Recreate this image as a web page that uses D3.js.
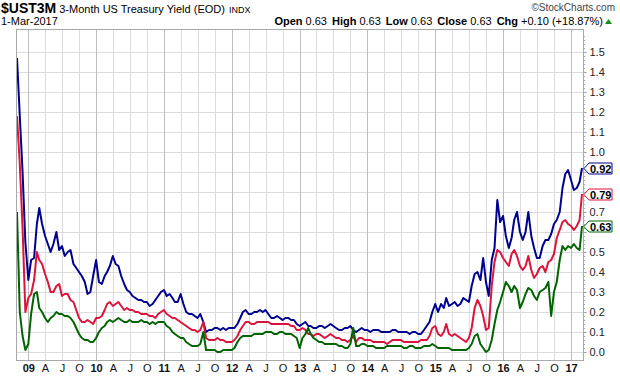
<!DOCTYPE html>
<html>
<head>
<meta charset="utf-8">
<script src="https://cdn.jsdelivr.net/npm/d3@7"></script>
<style>
  body { margin: 0; background: #fff; }
  svg { display: block; font-family: "Liberation Sans", Arial, sans-serif; }
</style>
</head>
<body>
<div id="chart"></div>
<script>
// semi-monthly closes (1st and 16th), Nov 2008 .. Mar 2017
const startDate = new Date(2008, 10, 1);

const yield1Y = [
  1.47, 1.18, 0.90, 0.55,
  0.36, 0.46, 0.47, 0.64, 0.72, 0.64, 0.58, 0.54, 0.50, 0.54, 0.60, 0.51, 0.53, 0.48, 0.50, 0.51, 0.44, 0.42, 0.40, 0.38, 0.35, 0.29, 0.30, 0.38,
  0.46, 0.35, 0.34, 0.38, 0.40, 0.43, 0.48, 0.44, 0.43, 0.38, 0.34, 0.31, 0.30, 0.28, 0.27, 0.26, 0.26, 0.25, 0.25, 0.23, 0.24, 0.26, 0.28, 0.30,
  0.31, 0.28, 0.29, 0.27, 0.25, 0.25, 0.29, 0.24, 0.20, 0.19, 0.19, 0.18, 0.17, 0.19, 0.15, 0.10, 0.11, 0.11, 0.12, 0.12, 0.11, 0.12, 0.11, 0.12,
  0.12, 0.12, 0.14, 0.17, 0.20, 0.21, 0.19, 0.19, 0.20, 0.20, 0.21, 0.20, 0.21, 0.19, 0.17, 0.17, 0.18, 0.17, 0.16, 0.17, 0.17, 0.16, 0.16, 0.14,
  0.13, 0.14, 0.15, 0.13, 0.13, 0.12, 0.12, 0.13, 0.13, 0.12, 0.13, 0.14, 0.13, 0.12, 0.11, 0.11, 0.12, 0.12, 0.13, 0.11, 0.10, 0.11, 0.12, 0.11,
  0.11, 0.10, 0.11, 0.11, 0.11, 0.10, 0.10, 0.10, 0.10, 0.11, 0.11, 0.10, 0.10, 0.10, 0.10, 0.09, 0.10, 0.10, 0.09, 0.09, 0.11, 0.13, 0.15, 0.20,
  0.24, 0.20, 0.24, 0.22, 0.27, 0.23, 0.24, 0.25, 0.23, 0.24, 0.27, 0.26, 0.25, 0.33, 0.39, 0.40, 0.36, 0.47, 0.35, 0.28, 0.46, 0.52, 0.76, 0.65,
  0.68, 0.58, 0.52, 0.57, 0.66, 0.70, 0.60, 0.56, 0.60, 0.70, 0.58, 0.52, 0.47, 0.47, 0.53, 0.56, 0.56, 0.59, 0.64, 0.66, 0.70, 0.82, 0.89, 0.91,
  0.86, 0.81, 0.82, 0.85, 0.92
];

const yield6M = [
  1.18, 0.94, 0.62, 0.20,
  0.27, 0.29, 0.36, 0.50, 0.46, 0.44, 0.39, 0.35, 0.30, 0.30, 0.33, 0.34, 0.28, 0.29, 0.29, 0.26, 0.25, 0.21, 0.17, 0.15, 0.15, 0.16, 0.15, 0.14,
  0.17, 0.17, 0.18, 0.21, 0.24, 0.25, 0.23, 0.24, 0.25, 0.23, 0.21, 0.22, 0.21, 0.21, 0.20, 0.20, 0.19, 0.19, 0.19, 0.18, 0.18, 0.17, 0.19, 0.20,
  0.21, 0.19, 0.18, 0.17, 0.17, 0.16, 0.15, 0.14, 0.13, 0.12, 0.11, 0.11, 0.10, 0.11, 0.15, 0.07, 0.06, 0.06, 0.06, 0.07, 0.06, 0.06, 0.05, 0.05,
  0.05, 0.06, 0.08, 0.11, 0.13, 0.15, 0.15, 0.14, 0.14, 0.15, 0.15, 0.15, 0.15, 0.15, 0.14, 0.14, 0.14, 0.14, 0.14, 0.14, 0.14, 0.13, 0.13, 0.11,
  0.11, 0.12, 0.11, 0.09, 0.09, 0.08, 0.09, 0.09, 0.08, 0.07, 0.08, 0.09, 0.08, 0.07, 0.07, 0.06, 0.06, 0.05, 0.06, 0.08, 0.05, 0.07, 0.07, 0.06,
  0.06, 0.06, 0.05, 0.05, 0.05, 0.05, 0.05, 0.04, 0.05, 0.06, 0.06, 0.06, 0.06, 0.05, 0.05, 0.05, 0.05, 0.05, 0.05, 0.06, 0.06, 0.06, 0.08, 0.12,
  0.13, 0.09, 0.08, 0.10, 0.14, 0.09, 0.08, 0.09, 0.08, 0.07, 0.06, 0.05, 0.07, 0.12, 0.22, 0.26, 0.23, 0.18, 0.11, 0.12, 0.33, 0.45, 0.51, 0.50,
  0.47, 0.45, 0.43, 0.49, 0.51, 0.48, 0.43, 0.41, 0.43, 0.48, 0.41, 0.37, 0.39, 0.42, 0.43, 0.40, 0.45, 0.46, 0.49, 0.57, 0.61, 0.65, 0.66, 0.64,
  0.63, 0.61, 0.63, 0.66, 0.79
];

const yield3M = [
  0.70, 0.20, 0.08, 0.01,
  0.04, 0.19, 0.29, 0.30, 0.22, 0.20, 0.17, 0.15, 0.17, 0.18, 0.20, 0.19, 0.19, 0.18, 0.18, 0.17, 0.15, 0.12, 0.09, 0.07, 0.06, 0.06, 0.05, 0.05,
  0.07, 0.10, 0.12, 0.13, 0.15, 0.16, 0.15, 0.16, 0.17, 0.16, 0.15, 0.15, 0.16, 0.15, 0.15, 0.15, 0.16, 0.15, 0.15, 0.14, 0.15, 0.14, 0.15, 0.15,
  0.15, 0.13, 0.12, 0.10, 0.09, 0.08, 0.07, 0.07, 0.05, 0.04, 0.03, 0.03, 0.03, 0.04, 0.10, 0.01, 0.01, 0.01, 0.01, 0.00, 0.00, 0.01, 0.01, 0.01,
  0.01, 0.02, 0.05, 0.07, 0.08, 0.08, 0.08, 0.08, 0.09, 0.09, 0.09, 0.09, 0.10, 0.10, 0.10, 0.09, 0.09, 0.10, 0.10, 0.09, 0.09, 0.09, 0.08, 0.07,
  0.02, 0.07, 0.09, 0.12, 0.09, 0.07, 0.06, 0.05, 0.05, 0.04, 0.04, 0.04, 0.04, 0.04, 0.03, 0.03, 0.02, 0.02, 0.04, 0.12, 0.03, 0.03, 0.04, 0.04,
  0.03, 0.03, 0.03, 0.02, 0.02, 0.02, 0.02, 0.03, 0.03, 0.03, 0.03, 0.03, 0.03, 0.02, 0.02, 0.03, 0.03, 0.02, 0.02, 0.02, 0.03, 0.03, 0.03, 0.04,
  0.03, 0.02, 0.02, 0.02, 0.02, 0.02, 0.01, 0.01, 0.01, 0.01, 0.01, 0.01, 0.02, 0.04, 0.08, 0.09, 0.04, 0.02, 0.00, 0.01, 0.06, 0.14, 0.21, 0.25,
  0.30, 0.35, 0.33, 0.30, 0.33, 0.31, 0.22, 0.25, 0.29, 0.32, 0.31, 0.28, 0.26, 0.30, 0.31, 0.32, 0.35, 0.18, 0.30, 0.35, 0.46, 0.53, 0.51, 0.53,
  0.52, 0.54, 0.52, 0.51, 0.63
];

const seriesNames = ['1Y', '6M', '3M'];
const seriesColors = ['#000090', '#dc143c', '#006400'];
const yTicks = [0, 0.1, 0.2, 0.3, 0.4, 0.5, 0.6, 0.7, 0.8, 0.9, 1.0, 1.1, 1.2, 1.3, 1.4, 1.5];
const monthLetters = { 3: 'A', 6: 'J', 9: 'O' };

const width = 620, height = 376;
const margin = { top: 29, right: 37, bottom: 16, left: 16 };

const dates = yield3M.map((_, i) =>
  d3.timeDay.offset(d3.timeMonth.offset(startDate, Math.floor(i / 2)), (i % 2) * 15));
const series = [yield1Y, yield6M, yield3M].map((vals, k) => ({
  name: seriesNames[k],
  color: seriesColors[k],
  values: vals.map((v, i) => ({ date: dates[i], value: v }))
}));

const svg = d3.select('#chart').append('svg')
  .attr('width', width)
  .attr('height', height);

const x = d3.scaleTime()
  .domain([dates[0], dates[dates.length - 1]])
  .range([margin.left + 1, width - margin.right - 1]);
const y = d3.scaleLinear()
  .domain([-0.04, 1.615])
  .range([height - margin.bottom, margin.top]);

const plotW = width - margin.right - margin.left;
const plotH = height - margin.bottom - margin.top;
const lastY = series.map((s) => Math.round(y(s.values[s.values.length - 1].value)) + 0.5);

// grid
const quarters = d3.timeMonth.every(3).range(new Date(2009, 0, 1), new Date(2017, 1, 1));
const grid = svg.append('g');
grid.selectAll('.hgrid')
  .data(yTicks)
  .enter().append('line')
  .attr('x1', margin.left).attr('x2', width - margin.right)
  .attr('y1', (d) => Math.round(y(d)) + 0.5).attr('y2', (d) => Math.round(y(d)) + 0.5)
  .attr('stroke', '#dcdcdc');
grid.selectAll('.vgrid')
  .data(quarters)
  .enter().append('line')
  .attr('x1', (d) => Math.round(x(d)) + 0.5).attr('x2', (d) => Math.round(x(d)) + 0.5)
  .attr('y1', margin.top).attr('y2', height - margin.bottom)
  .attr('stroke', (d) => d.getMonth() === 0 ? '#bdbdbd' : '#dcdcdc');

// lines
const line = d3.line()
  .x((d) => x(d.date))
  .y((d) => y(d.value));
svg.append('g').selectAll('path')
  .data(series)
  .enter().append('path')
  .attr('fill', 'none')
  .attr('stroke', (d) => d.color)
  .attr('stroke-width', 2)
  .attr('stroke-linejoin', 'round')
  .attr('d', (d) => line(d.values));

// frame
svg.append('rect')
  .attr('x', margin.left + 0.5).attr('y', margin.top + 0.5)
  .attr('width', plotW).attr('height', plotH)
  .attr('fill', 'none').attr('stroke', '#a8a8a8');

// y axis on the right; labels hidden behind the last-value tags are skipped
const yAxis = svg.append('g')
  .attr('transform', `translate(${width - margin.right + 0.5},0)`)
  .call(d3.axisRight(y).tickValues(yTicks).tickFormat(d3.format('.1f')).tickSize(3).tickPadding(3));
yAxis.select('.domain').remove();
yAxis.selectAll('line').attr('stroke', '#999');
yAxis.selectAll('text').attr('font-size', 11).attr('fill', '#222')
  .attr('font-family', '"Liberation Sans", Arial, sans-serif');
yAxis.selectAll('.tick')
  .filter((d) => lastY.some((ly) => Math.abs(ly - y(d)) < 11))
  .select('text').remove();
svg.append('g').selectAll('line')
  .data(d3.range(0, 80).map((k) => k * 0.02))
  .enter().append('line')
  .attr('x1', width - margin.right).attr('x2', width - margin.right + 2)
  .attr('y1', (d) => Math.round(y(d)) + 0.5).attr('y2', (d) => Math.round(y(d)) + 0.5)
  .attr('stroke', '#aaa');

// x axis
const xAxis = svg.append('g')
  .attr('transform', `translate(0,${height - margin.bottom})`)
  .call(d3.axisBottom(x).tickValues(quarters).tickSize(0).tickPadding(4)
    .tickFormat((d) => d.getMonth() === 0 ? d3.timeFormat('%y')(d) : monthLetters[d.getMonth()]));
xAxis.select('.domain').remove();
xAxis.selectAll('text')
  .attr('font-size', 11)
  .attr('fill', '#111')
  .attr('font-family', '"Liberation Sans", Arial, sans-serif')
  .attr('font-weight', (d) => d.getMonth() === 0 ? 'bold' : 'normal');

// last value tags
const tags = svg.append('g').selectAll('g')
  .data(series)
  .enter().append('g')
  .attr('transform', (d, i) => `translate(${width - margin.right + 1},${lastY[i]})`);
tags.append('path')
  .attr('d', 'M0,0 L5,-5.5 L28,-5.5 L28,5.5 L5,5.5 Z')
  .attr('fill', '#fff')
  .attr('stroke', (d) => d.color);
tags.append('text')
  .attr('x', 6).attr('y', 4)
  .attr('font-size', 11).attr('font-weight', 'bold').attr('fill', '#000')
  .text((d) => d3.format('.2f')(d.values[d.values.length - 1].value));

// header
const head = svg.append('g').attr('fill', '#000');
const title = head.append('text').attr('x', 1).attr('y', 13);
title.append('tspan').attr('font-size', 14).attr('font-weight', 'bold').text('$UST3M');
title.append('tspan').attr('font-size', 11).attr('dx', 3).text('3-Month US Treasury Yield (EOD)');
title.append('tspan').attr('font-size', 9).attr('dx', 4).text('INDX');
head.append('text').attr('x', 615).attr('y', 11).attr('text-anchor', 'end')
  .attr('font-size', 10).attr('fill', '#444').text('\u00a9StockCharts.com');
head.append('text').attr('x', 1).attr('y', 25).attr('font-size', 11).text('1-Mar-2017');

const quote = [['Open', '0.63'], ['High', '0.63'], ['Low', '0.63'], ['Close', '0.63'], ['Chg', '+0.10 (+18.87%)']];
const qt = head.append('text').attr('x', 603).attr('y', 25).attr('text-anchor', 'end').attr('font-size', 11);
quote.forEach(([k, v], i) => {
  qt.append('tspan').attr('font-weight', 'bold').attr('dx', i ? 5 : 0).text(k);
  qt.append('tspan').attr('dx', 3).text(v);
});
head.append('path').attr('d', 'M605,24 L608.5,19 L612,24 Z').attr('fill', '#1a8a1a');
</script>
</body>
</html>
